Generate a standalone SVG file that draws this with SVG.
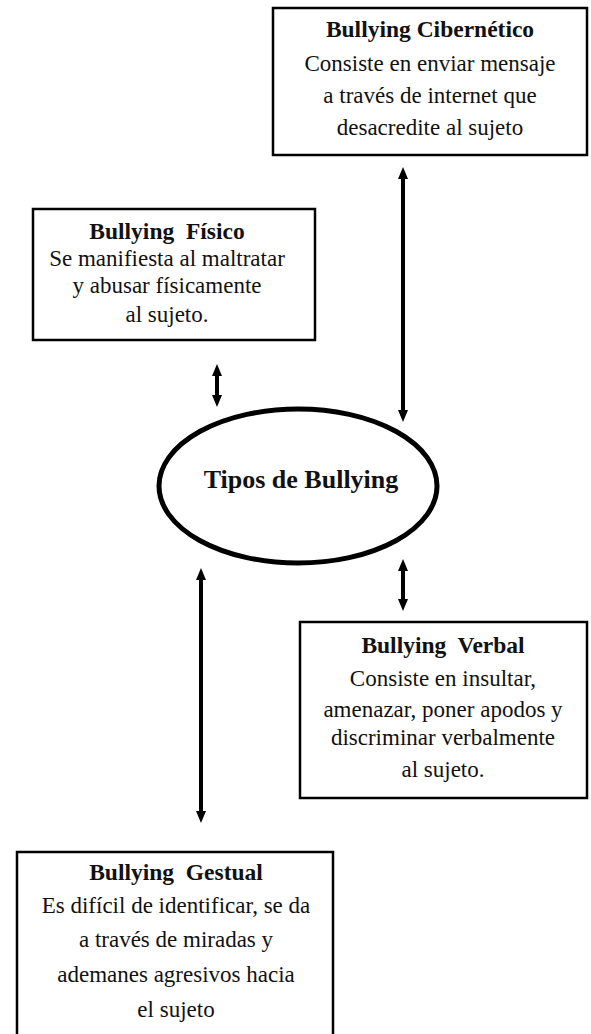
<svg xmlns="http://www.w3.org/2000/svg" width="591" height="1034" viewBox="0 0 591 1034">
<style>
.box{fill:#fff;stroke:#000;stroke-width:2.5}
.ell{fill:#fff;stroke:#000;stroke-width:5}
.t{font-family:"Liberation Serif","Times New Roman",serif;font-size:23px;fill:#111;text-anchor:middle}
.b{font-weight:bold;font-size:23.5px}
.c{stroke:#000;stroke-width:4;fill:none;marker-start:url(#ah);marker-end:url(#ah)}
</style>
<defs>
<marker id="ah" markerUnits="userSpaceOnUse" markerWidth="12" markerHeight="10" refX="1" refY="5" orient="auto-start-reverse">
<path d="M0,0 L12,5 L0,10 z" fill="#000"/>
</marker>
</defs>
<rect width="591" height="1034" fill="#fff"/>
<g id="connectors">
<line class="c" x1="217" y1="375" x2="217" y2="396"/>
<line class="c" x1="403" y1="178" x2="403" y2="411"/>
<line class="c" x1="403" y1="570" x2="403" y2="600"/>
<line class="c" x1="201" y1="579" x2="201" y2="812"/>
</g>
<g id="cibernetico">
<rect class="box" x="273" y="8" width="314" height="147"/>
<text class="t b" x="430" y="37">Bullying Cibernético</text>
<text class="t" x="430" y="71">Consiste en enviar mensaje</text>
<text class="t" x="430" y="103">a través de internet que</text>
<text class="t" x="430" y="135">desacredite al sujeto</text>
</g>
<g id="fisico">
<rect class="box" x="33" y="209" width="282" height="131"/>
<text class="t b" x="167" y="239">Bullying&#160; Físico</text>
<text class="t" x="167" y="266">Se manifiesta al maltratar</text>
<text class="t" x="167" y="293">y abusar físicamente</text>
<text class="t" x="167" y="322">al sujeto.</text>
</g>
<g id="tipos">
<ellipse class="ell" cx="298" cy="486" rx="139" ry="77"/>
<text class="t b" x="301" y="488" style="font-size:26px">Tipos de Bullying</text>
</g>
<g id="verbal">
<rect class="box" x="300" y="622" width="287" height="176"/>
<text class="t b" x="443" y="653">Bullying&#160; Verbal</text>
<text class="t" x="443" y="686">Consiste en insultar,</text>
<text class="t" x="443" y="717">amenazar, poner apodos y</text>
<text class="t" x="443" y="745">discriminar verbalmente</text>
<text class="t" x="443" y="777">al sujeto.</text>
</g>
<g id="gestual">
<rect class="box" x="17" y="852" width="316" height="190"/>
<text class="t b" x="176" y="880">Bullying&#160; Gestual</text>
<text class="t" x="176" y="913">Es difícil de identificar, se da</text>
<text class="t" x="176" y="947">a través de miradas y</text>
<text class="t" x="176" y="982">ademanes agresivos hacia</text>
<text class="t" x="176" y="1017">el sujeto</text>
</g>
</svg>
